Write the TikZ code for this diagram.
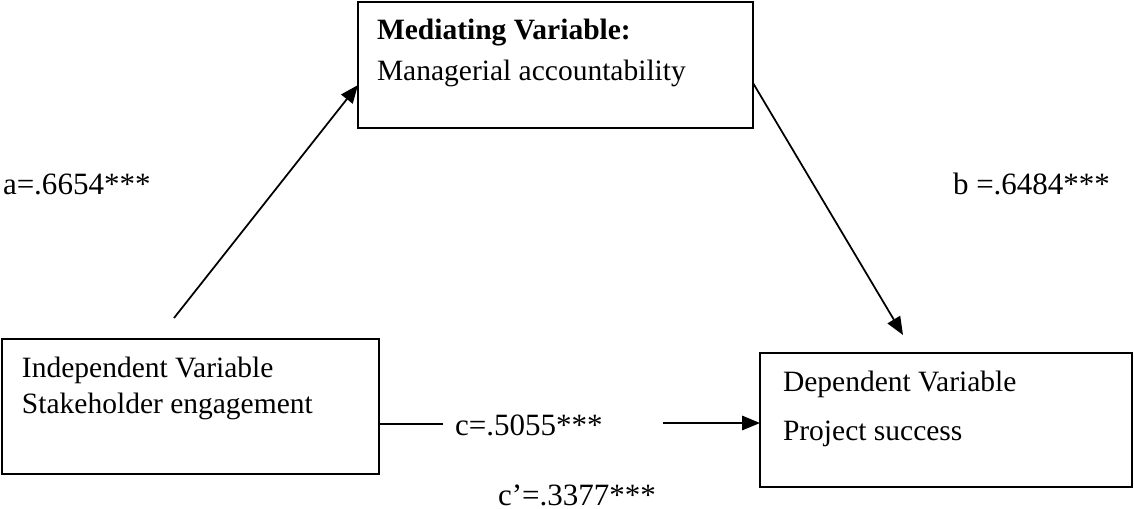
\documentclass[tikz,border=0pt]{standalone}
\usepackage{fontspec}
\setmainfont{Liberation Serif}
\usetikzlibrary{arrows.meta}
\begin{document}
\begin{tikzpicture}[x=0.4pt,y=-0.4pt,
  box/.style={draw, line width=1.1pt, rectangle, inner sep=0pt, outer sep=0pt, anchor=north west},
  lbl/.style={anchor=base west, inner sep=0pt, outer sep=0pt, font=\fontsize{12.4}{14}\selectfont},
  btxt/.style={anchor=base west, inner sep=0pt, outer sep=0pt, font=\fontsize{11.8}{14}\selectfont},
  conn/.style={line width=0.7pt},
  arr/.style={conn, -{Triangle[length=7.2pt,width=5.8pt]}}]
\useasboundingbox (0,0) rectangle (1134,508);
% boxes
\node[box, minimum width=158pt, minimum height=50.4pt] (med) at (358,2) {};
\node[box, minimum width=150.8pt, minimum height=54pt] (ind) at (2,339) {};
\node[box, minimum width=148.8pt, minimum height=53.6pt] (dep) at (760,353) {};
% box texts
\node[btxt, font=\fontsize{11.8}{14}\selectfont\bfseries] (medT1) at (377,39) {Mediating Variable:};
\node[btxt] (medT2) at (377,80) {Managerial accountability};
\node[btxt] (indT1) at (22,377) {Independent Variable};
\node[btxt] (indT2) at (22,413) {Stakeholder engagement};
\node[btxt] (depT1) at (783,391) {Dependent Variable};
\node[btxt] (depT2) at (783,440) {Project success};
% path labels
\node[lbl] (la) at (3,194) {a=.6654***};
\node[lbl] (lb) at (953,194) {b =.6484***};
\node[lbl] (lc) at (455,435) {c=.5055***};
\node[lbl] (lcp) at (498,505) {c’=.3377***};
% connector points
\coordinate (aS) at (174,318);
\coordinate (aE) at (358,85);
\coordinate (bS) at (753,83);
\coordinate (bE) at (903,335);
\coordinate (cB) at (443,424);
\coordinate (cC) at (663,423);
% connectors
\draw[arr] (aS) -- (med.west |- aE);
\draw[arr] (med.east |- bS) -- (bE);
\draw[conn] (ind.east |- cB) -- (cB);
\draw[arr] (cC) -- (dep.west |- cC);
\end{tikzpicture}
\end{document}
